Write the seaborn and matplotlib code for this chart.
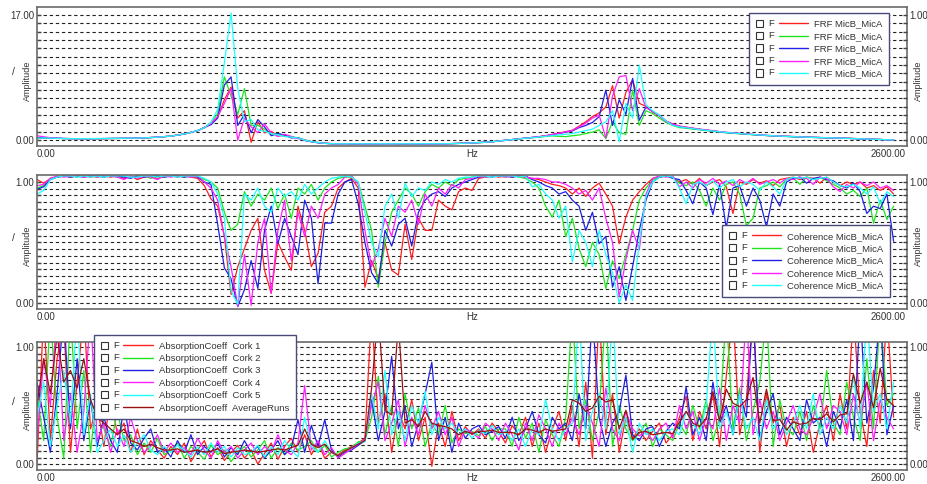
import numpy as np
import pandas as pd
import seaborn as sns
import matplotlib.pyplot as plt
from matplotlib.legend_handler import HandlerBase
from matplotlib.patches import Rectangle
from matplotlib.lines import Line2D
from matplotlib.text import Text

# frequency axis of the three spectra (20 Hz bins, 0 .. 2560 Hz)
hz = np.arange(129) * 20.0

# ---- panel 1 : FRF MicB_MicA, five runs
frf_red = [
    0.30, 0.32, 0.28, 0.25, 0.21, 0.20, 0.19, 0.20, 0.18, 0.21,
    0.20, 0.23, 0.22, 0.25, 0.25, 0.29, 0.30, 0.36, 0.39, 0.48,
    0.54, 0.70, 0.82, 1.08, 1.28, 1.75, 2.20, 3.10, 5.50, 7.20,
    3.00, 4.00, -0.30, 2.50, 1.00, 1.20, 0.60, 0.60, 0.40, 0.30,
    0.00, -0.20, -0.34, -0.43, -0.47, -0.50, -0.49, -0.52, -0.50, -0.48,
    -0.51, -0.50, -0.47, -0.50, -0.52, -0.49, -0.50, -0.48, -0.51, -0.50,
    -0.49, -0.50, -0.47, -0.45, -0.41, -0.38, -0.34, -0.29, -0.22, -0.12,
    -0.02, 0.08, 0.19, 0.28, 0.36, 0.47, 0.60, 0.78, 0.95, 1.15,
    1.35, 1.90, 2.50, 3.20, 3.70, 4.50, 7.40, 3.00, 6.50, 8.20,
    5.00, 4.60, 3.80, 3.30, 2.60, 2.20, 1.90, 1.75, 1.62, 1.48,
    1.38, 1.27, 1.15, 1.05, 0.97, 0.90, 0.83, 0.76, 0.70, 0.64,
    0.60, 0.55, 0.51, 0.47, 0.44, 0.41, 0.38, 0.35, 0.33, 0.31,
    0.29, 0.26, 0.23, 0.20, 0.16, 0.13, 0.09, 0.05, 0.02]
frf_green = [
    0.35, 0.30, 0.29, 0.24, 0.22, 0.19, 0.21, 0.18, 0.20, 0.19,
    0.22, 0.21, 0.24, 0.23, 0.27, 0.27, 0.32, 0.34, 0.41, 0.46,
    0.57, 0.66, 0.86, 1.02, 1.33, 1.65, 2.40, 3.60, 8.60, 6.00,
    3.50, 7.00, 2.00, 2.00, 1.50, 0.80, 0.90, 0.50, 0.50, 0.30,
    0.05, -0.18, -0.32, -0.44, -0.48, -0.49, -0.51, -0.50, -0.49, -0.52,
    -0.50, -0.48, -0.51, -0.50, -0.49, -0.51, -0.52, -0.50, -0.48, -0.50,
    -0.51, -0.48, -0.48, -0.46, -0.43, -0.39, -0.35, -0.30, -0.23, -0.13,
    -0.03, 0.06, 0.16, 0.25, 0.32, 0.40, 0.50, 0.58, 0.52, 0.48,
    0.60, 0.70, 0.90, 1.10, 1.40, 0.20, 2.50, 1.00, 0.80, 6.80,
    2.00, 4.00, 3.60, 3.00, 2.40, 2.00, 1.70, 1.62, 1.50, 1.40,
    1.30, 1.20, 1.10, 1.00, 0.93, 0.86, 0.79, 0.73, 0.67, 0.62,
    0.57, 0.53, 0.49, 0.46, 0.42, 0.39, 0.36, 0.34, 0.32, 0.30,
    0.28, 0.25, 0.22, 0.19, 0.16, 0.12, 0.08, 0.05, 0.02]
frf_blue = [
    0.32, 0.34, 0.31, 0.27, 0.23, 0.21, 0.20, 0.19, 0.21, 0.20,
    0.21, 0.22, 0.23, 0.24, 0.26, 0.28, 0.31, 0.35, 0.40, 0.47,
    0.55, 0.69, 0.83, 1.06, 1.27, 1.72, 2.10, 3.00, 7.50, 8.60,
    2.00, 3.50, 1.00, 2.80, 1.80, 0.60, 0.90, 0.70, 0.30, 0.35,
    -0.05, -0.22, -0.36, -0.44, -0.49, -0.50, -0.48, -0.51, -0.52, -0.50,
    -0.49, -0.51, -0.50, -0.48, -0.50, -0.51, -0.49, -0.52, -0.50, -0.49,
    -0.50, -0.49, -0.46, -0.44, -0.42, -0.37, -0.33, -0.28, -0.21, -0.11,
    0.00, 0.09, 0.18, 0.27, 0.35, 0.46, 0.57, 0.74, 0.90, 1.08,
    1.25, 1.70, 2.00, 2.40, 3.20, 6.80, 2.00, 5.50, 3.50, 8.40,
    2.70, 4.50, 3.90, 3.40, 2.60, 2.10, 1.85, 1.70, 1.58, 1.45,
    1.35, 1.24, 1.12, 1.03, 0.96, 0.88, 0.81, 0.75, 0.69, 0.63,
    0.58, 0.54, 0.50, 0.47, 0.43, 0.40, 0.37, 0.34, 0.32, 0.30,
    0.27, 0.24, 0.22, 0.18, 0.15, 0.12, 0.08, 0.04, 0.01]
frf_magenta = [
    0.60, 0.45, 0.33, 0.27, 0.22, 0.20, 0.20, 0.19, 0.20, 0.20,
    0.21, 0.22, 0.23, 0.25, 0.26, 0.28, 0.31, 0.36, 0.40, 0.47,
    0.56, 0.68, 0.85, 1.04, 1.31, 1.68, 2.25, 3.20, 5.00, 7.00,
    0.00, 3.00, 1.80, 1.00, 2.20, 1.00, 0.50, 0.80, 0.50, 0.20,
    0.00, -0.19, -0.35, -0.42, -0.48, -0.51, -0.50, -0.49, -0.51, -0.50,
    -0.52, -0.49, -0.50, -0.51, -0.48, -0.50, -0.50, -0.51, -0.49, -0.52,
    -0.50, -0.50, -0.48, -0.45, -0.42, -0.38, -0.35, -0.29, -0.22, -0.12,
    -0.01, 0.08, 0.18, 0.27, 0.36, 0.46, 0.59, 0.76, 0.92, 1.12,
    1.30, 1.80, 2.30, 3.00, 3.40, 0.30, 6.00, 8.60, 8.80, 4.00,
    7.00, 4.40, 3.90, 3.30, 2.50, 2.20, 1.90, 1.76, 1.63, 1.50,
    1.40, 1.28, 1.16, 1.06, 0.98, 0.91, 0.84, 0.77, 0.71, 0.65,
    0.61, 0.56, 0.52, 0.48, 0.45, 0.41, 0.38, 0.36, 0.33, 0.31,
    0.29, 0.26, 0.23, 0.20, 0.17, 0.13, 0.09, 0.05, 0.02]
frf_cyan = [
    0.28, 0.30, 0.27, 0.24, 0.21, 0.19, 0.20, 0.19, 0.20, 0.20,
    0.21, 0.22, 0.23, 0.24, 0.26, 0.28, 0.31, 0.35, 0.40, 0.47,
    0.55, 0.68, 0.84, 1.05, 1.30, 1.70, 2.40, 4.20, 10.50, 17.30,
    7.00, 2.50, 2.80, 1.40, 1.20, 0.90, 0.70, 0.50, 0.40, 0.30,
    0.00, -0.20, -0.34, -0.43, -0.48, -0.50, -0.50, -0.49, -0.50, -0.51,
    -0.50, -0.50, -0.49, -0.51, -0.50, -0.50, -0.49, -0.51, -0.50, -0.50,
    -0.49, -0.49, -0.47, -0.45, -0.42, -0.38, -0.34, -0.29, -0.22, -0.12,
    -0.02, 0.07, 0.17, 0.26, 0.33, 0.42, 0.52, 0.62, 0.70, 0.80,
    0.90, 1.10, 1.30, 1.50, 2.00, 2.50, 4.00, -0.20, 5.00, 3.00,
    10.20, 4.80, 4.00, 3.40, 2.60, 2.00, 1.80, 1.68, 1.55, 1.44,
    1.34, 1.23, 1.13, 1.04, 0.96, 0.89, 0.82, 0.76, 0.70, 0.64,
    0.59, 0.55, 0.51, 0.47, 0.44, 0.40, 0.37, 0.35, 0.33, 0.31,
    0.28, 0.25, 0.22, 0.19, 0.16, 0.12, 0.09, 0.05, 0.02]

# ---- panel 2 : Coherence MicB_MicA, five runs
coh_red = [
    1.02, 0.99, 1.03, 1.04, 1.05, 1.04, 1.05, 1.05, 1.04, 1.05,
    1.05, 1.04, 1.05, 1.03, 1.05, 1.02, 1.04, 1.05, 1.03, 1.05,
    1.05, 1.04, 1.05, 1.04, 1.03, 0.97, 0.86, 0.80, 0.55, 0.07,
    0.30, 0.45, 0.60, 0.70, 0.27, 0.08, 0.50, 0.38, 0.27, 0.80,
    0.60, 0.30, 0.41, 0.75, 0.80, 0.95, 1.00, 1.03, 0.95, 0.13,
    0.35, 0.20, 0.50, 0.27, 0.23, 0.65, 0.36, 0.70, 0.60, 0.60,
    0.85, 0.80, 0.77, 0.92, 0.95, 0.93, 1.03, 1.04, 1.05, 1.04,
    1.05, 1.04, 1.05, 1.04, 1.03, 1.02, 1.00, 0.98, 0.97, 0.95,
    0.90, 0.95, 0.88, 0.95, 0.99, 0.90, 0.80, 0.49, 0.71, 0.85,
    0.92, 0.98, 1.03, 1.04, 1.05, 1.04, 1.00, 1.02, 0.98, 1.03,
    0.97, 1.00, 1.02, 0.96, 0.74, 1.00, 0.98, 1.02, 0.99, 1.01,
    0.97, 1.02, 1.03, 1.04, 1.02, 1.04, 1.03, 0.99, 1.04, 1.00,
    0.97, 1.00, 0.98, 1.00, 0.95, 0.97, 0.93, 0.96, 0.90]
coh_green = [
    0.95, 0.97, 1.03, 1.04, 1.05, 1.05, 1.04, 1.05, 1.05, 1.04,
    1.05, 1.05, 1.04, 1.05, 1.04, 1.05, 1.05, 1.03, 1.05, 1.04,
    1.05, 1.05, 1.04, 1.05, 1.05, 1.02, 1.00, 0.95, 0.75, 0.60,
    0.65, 0.92, 0.80, 0.90, 0.85, 0.95, 0.78, 0.90, 0.70, 0.95,
    0.90, 0.98, 0.85, 0.95, 1.00, 1.03, 1.04, 1.04, 1.00, 0.80,
    0.60, 0.13, 0.50, 0.75, 0.85, 0.95, 0.90, 0.80, 0.92, 0.98,
    0.95, 1.00, 0.97, 1.02, 1.03, 1.04, 1.05, 1.04, 1.05, 1.05,
    1.04, 1.05, 1.04, 1.03, 1.00, 0.95, 0.80, 0.71, 0.85, 0.55,
    0.70, 0.45, 0.30, 0.50, 0.40, 0.12, 0.35, 0.20, 0.40, 0.60,
    0.85, 0.95, 1.02, 1.04, 1.05, 1.04, 0.99, 0.97, 1.00, 0.93,
    0.80, 0.95, 0.85, 0.98, 1.00, 0.90, 0.64, 0.70, 0.95, 0.97,
    1.00, 0.96, 1.02, 1.03, 0.98, 1.04, 1.02, 1.04, 1.01, 0.98,
    0.95, 0.90, 0.93, 0.88, 0.95, 0.66, 0.85, 0.69, 0.80]
coh_blue = [
    0.94, 0.96, 1.02, 1.04, 1.05, 1.04, 1.05, 1.04, 1.05, 1.05,
    1.04, 1.05, 1.05, 1.04, 1.03, 1.05, 1.04, 1.05, 1.05, 1.04,
    1.05, 1.05, 1.04, 1.05, 1.04, 1.00, 0.98, 0.65, 0.29, 0.20,
    -0.03, 0.11, 0.35, 0.12, 0.60, 0.80, 0.49, 0.70, 0.55, 0.40,
    0.85, 0.70, 0.16, 0.66, 0.66, 0.90, 1.00, 1.02, 0.82, 0.50,
    0.25, 0.16, 0.60, 0.47, 0.65, 0.70, 0.47, 0.75, 0.85, 0.90,
    0.92, 0.88, 0.95, 0.98, 1.00, 1.02, 1.04, 1.05, 1.04, 1.05,
    1.05, 1.04, 1.05, 1.05, 1.02, 1.00, 0.97, 0.95, 0.90, 0.92,
    0.85, 0.80, 0.60, 0.75, 0.49, 0.55, 0.13, 0.30, 0.02, 0.30,
    0.60, 0.85, 1.00, 1.04, 1.05, 1.03, 1.02, 0.93, 0.82, 1.00,
    0.95, 0.73, 0.98, 0.62, 0.95, 0.97, 0.80, 0.95, 0.85, 0.63,
    0.90, 0.80, 1.00, 1.03, 1.04, 0.99, 1.03, 1.04, 1.02, 1.01,
    0.97, 0.95, 0.99, 0.92, 0.74, 0.80, 0.78, 0.90, 0.51]
coh_magenta = [
    0.97, 0.98, 1.03, 1.05, 1.04, 1.05, 1.05, 1.04, 1.05, 1.04,
    1.05, 1.05, 1.04, 1.02, 1.05, 1.03, 1.05, 1.04, 1.02, 1.05,
    1.04, 1.05, 1.05, 1.04, 1.05, 1.00, 0.95, 0.85, 0.55, 0.30,
    -0.03, 0.40, -0.02, 0.50, 0.70, 0.08, 0.60, 0.85, 0.35, 0.75,
    0.55, 0.80, 0.70, 0.90, 0.95, 0.98, 1.04, 1.05, 0.98, 0.60,
    0.30, 0.45, 0.70, 0.55, 0.80, 0.75, 0.85, 0.65, 0.90, 0.80,
    0.95, 0.90, 0.98, 0.95, 1.02, 1.03, 1.05, 1.04, 1.05, 1.05,
    1.04, 1.05, 1.05, 1.04, 1.03, 1.03, 1.02, 1.00, 1.00, 0.98,
    0.95, 0.90, 0.93, 0.85, 0.95, 0.70, 0.50, 0.05, 0.36, 0.60,
    0.44, 0.90, 1.03, 1.05, 1.04, 1.05, 0.96, 1.00, 0.95, 1.02,
    0.99, 1.03, 0.98, 1.01, 0.97, 1.02, 0.99, 1.03, 0.98, 1.00,
    1.02, 0.99, 1.03, 1.02, 1.04, 1.03, 0.98, 1.04, 1.03, 0.96,
    0.92, 0.98, 0.95, 1.00, 0.97, 1.00, 0.95, 0.97, 0.93]
coh_cyan = [
    0.90, 0.93, 1.02, 1.04, 1.05, 1.05, 1.04, 1.05, 1.04, 1.05,
    1.04, 1.05, 1.05, 1.05, 1.04, 1.04, 1.05, 1.05, 1.04, 1.05,
    1.05, 1.04, 1.05, 1.05, 1.05, 1.03, 1.00, 0.90, 0.70, 0.10,
    -0.01, 0.90, 0.85, 0.95, 0.80, 0.75, 0.95, 0.88, 0.92, 0.85,
    0.98, 0.90, 0.95, 1.00, 1.03, 1.04, 1.05, 1.04, 1.00, 0.75,
    0.50, 0.38, 0.80, 0.90, 0.70, 0.99, 0.88, 0.95, 0.93, 1.00,
    0.98, 1.02, 1.00, 1.03, 1.04, 1.04, 1.05, 1.05, 1.04, 1.05,
    1.05, 1.05, 1.04, 1.05, 0.96, 0.98, 0.90, 0.85, 0.70, 0.80,
    0.34, 0.60, 0.50, 0.30, 0.60, 0.40, 0.25, 0.00, 0.15, 0.02,
    0.50, 0.88, 1.00, 1.04, 1.05, 1.04, 0.95, 0.82, 0.98, 1.00,
    0.97, 1.01, 0.95, 1.00, 1.02, 0.96, 1.00, 0.98, 0.93, 1.00,
    0.96, 0.90, 1.02, 1.04, 1.03, 1.04, 1.02, 1.03, 1.04, 1.00,
    0.97, 0.96, 0.98, 0.95, 0.90, 0.96, 0.82, 0.92, 0.88]

# ---- panel 3 : absorption coefficient, five corks + average
abs_cork1 = [
    0.00, 1.30, 0.20, 0.90, 1.20, 0.10, 0.70, 1.30, 0.30, 0.50,
    0.15, 0.60, 0.25, 0.35, 0.10, 0.30, 0.08, 0.20, 0.12, 0.05,
    0.15, 0.08, 0.18, 0.02, 0.12, 0.20, 0.06, 0.14, 0.03, 0.10,
    0.16, 0.05, 0.12, 0.00, 0.09, 0.18, 0.04, 0.15, 0.22, 0.10,
    0.25, 0.08, 0.18, 0.05, 0.10, 0.08, 0.12, 0.15, 0.18, 0.22,
    1.30, 0.35, 0.60, 0.10, 0.45, 0.30, 0.55, 0.20, 0.40, -0.02,
    0.35, 0.15, 0.45, 0.20, 0.32, 0.25, 0.30, 0.22, 0.35, 0.28,
    0.18, 0.33, 0.25, 0.40, 0.15, 0.35, 0.10, 0.30, 0.45, 0.20,
    0.50, 0.15, 0.70, 0.05, 1.30, 0.25, 0.60, 0.10, 0.40, 0.22,
    0.30, 0.20, 0.28, 0.35, 0.18, 0.25, 0.40, 0.58, 0.20, 0.45,
    0.30, 0.60, 0.15, 0.75, 1.30, 0.25, 0.55, 1.30, 0.10, 0.60,
    0.35, 0.50, 0.15, 0.40, 0.25, 0.45, 0.10, 0.35, 0.50, 0.20,
    0.60, 0.30, 1.30, 0.45, 0.15, 0.80, 0.35, 1.30, 0.40]
abs_cork2 = [
    0.60, 0.20, 1.30, 0.40, 0.05, 1.30, 0.30, 0.80, 0.10, 0.65,
    0.30, 0.15, 0.45, 0.20, 0.25, 0.08, 0.18, 0.10, 0.22, 0.08,
    0.12, 0.18, 0.05, 0.15, 0.10, 0.04, 0.16, 0.08, 0.12, 0.02,
    0.10, 0.15, 0.06, 0.12, 0.20, 0.05, 0.14, 0.08, 0.18, 0.12,
    0.15, 0.20, 0.10, 0.16, 0.06, 0.10, 0.13, 0.14, 0.19, 0.20,
    0.40, 0.75, 0.25, 0.50, 0.15, 0.60, 0.30, 0.48, 0.15, 0.35,
    0.25, 0.50, 0.18, 0.30, 0.26, 0.28, 0.24, 0.32, 0.20, 0.30,
    0.30, 0.15, 0.40, 0.22, 0.35, 0.10, 0.38, 0.25, 0.15, 0.40,
    1.30, 0.30, 0.55, 0.20, 0.45, 1.30, 0.15, 0.50, 0.30, 0.20,
    0.26, 0.35, 0.15, 0.30, 0.25, 0.20, 0.35, 0.25, 0.50, 0.30,
    0.55, 0.20, 0.40, 1.30, 0.30, 0.65, 0.20, 0.45, 0.70, 1.30,
    0.15, 0.55, 0.30, 0.25, 0.45, 0.20, 0.50, 0.30, 0.80, 0.35,
    0.25, 0.70, 0.40, 0.20, 0.90, 0.30, 1.30, 0.50, 0.60]
abs_cork3 = [
    0.70, 0.40, 0.10, 0.60, 1.30, 0.30, 0.90, 0.20, 0.55, 0.15,
    0.40, 0.20, 0.10, 0.50, 0.18, 0.12, 0.22, 0.30, 0.10, 0.14,
    0.06, 0.20, 0.10, 0.25, 0.08, 0.15, 0.10, 0.18, 0.06, 0.14,
    0.08, 0.20, 0.10, 0.15, 0.05, 0.12, 0.20, 0.08, 0.14, 0.38,
    0.10, 0.33, 0.15, 0.38, 0.12, 0.06, 0.10, 0.12, 0.16, 0.20,
    0.55, 0.20, 0.45, 0.92, 0.30, 0.50, 0.15, 0.35, 0.60, 0.87,
    0.20, 0.40, 0.10, 0.35, 0.22, 0.30, 0.33, 0.25, 0.28, 0.32,
    0.22, 0.40, 0.20, 0.30, 0.45, 0.25, 0.18, 0.40, 0.30, 0.35,
    0.20, 0.60, 0.30, 1.30, 0.40, 0.15, 0.35, 0.45, 0.76, 0.25,
    0.20, 0.30, 0.32, 0.15, 0.28, 0.35, 0.30, 0.66, 0.25, 0.40,
    0.20, 0.70, 0.35, 0.50, 0.25, 0.60, 0.40, 1.30, 0.20, 0.45,
    0.60, 0.25, 0.40, 0.30, 0.20, 0.55, 0.35, 0.40, 0.15, 0.45,
    0.30, 0.55, 0.20, 1.30, 0.35, 0.65, 1.30, 0.25, 0.50]
abs_cork4 = [
    0.20, 0.90, 0.50, 1.30, 0.20, 0.60, 0.10, 0.45, 1.30, 0.20,
    0.35, 0.10, 0.30, 0.15, 0.40, 0.20, 0.10, 0.15, 0.25, 0.10,
    0.18, 0.10, 0.14, 0.08, 0.22, 0.12, 0.05, 0.20, 0.10, 0.15,
    0.05, 0.12, 0.18, 0.08, 0.15, 0.10, 0.25, 0.12, 0.08, 0.18,
    0.67, 0.12, 0.20, 0.08, 0.14, 0.05, 0.09, 0.13, 0.17, 0.21,
    0.50, 0.70, 0.20, 0.35, 0.55, 0.15, 0.40, 0.25, 0.50, 0.30,
    0.45, 0.25, 0.40, 0.15, 0.30, 0.27, 0.22, 0.35, 0.30, 0.20,
    0.35, 0.25, 0.12, 0.35, 0.20, 0.42, 0.30, 0.15, 0.35, 0.25,
    0.40, 0.25, 0.50, 0.35, 0.15, 0.65, 0.30, 0.20, 0.45, 0.30,
    0.24, 0.28, 0.20, 0.30, 0.35, 0.22, 0.50, 0.30, 0.45, 0.20,
    0.40, 0.30, 0.65, 0.20, 0.50, 0.35, 1.30, 0.25, 0.55, 0.30,
    0.45, 0.20, 0.35, 0.50, 0.30, 0.25, 0.40, 0.60, 0.30, 0.50,
    0.45, 0.25, 0.60, 0.35, 0.70, 0.20, 0.55, 0.40, 0.30]
abs_cork5 = [
    0.40, 0.70, 0.15, 0.50, 0.80, 0.35, 1.30, 0.25, 0.60, 0.10,
    0.20, 0.30, 0.15, 0.25, 0.10, 0.18, 0.25, 0.12, 0.08, 0.15,
    0.10, 0.16, 0.12, 0.06, 0.15, 0.08, 0.18, 0.10, 0.15, 0.06,
    0.14, 0.08, 0.10, 0.16, 0.06, 0.15, 0.08, 0.20, 0.12, 0.06,
    0.40, 0.15, 0.10, 0.20, 0.10, 0.07, 0.11, 0.14, 0.18, 0.19,
    0.60, 0.30, 0.80, 0.25, 0.45, 0.20, 0.50, 0.35, 0.62, 0.25,
    0.40, 0.30, 0.35, 0.25, 0.30, 0.22, 0.29, 0.26, 0.33, 0.25,
    0.28, 0.20, 0.30, 0.15, 0.30, 0.25, 0.55, 0.30, 0.20, 0.30,
    0.35, 1.30, 0.20, 0.45, 0.60, 0.30, 1.30, 0.25, 0.40, 0.10,
    0.35, 0.25, 0.30, 0.20, 0.28, 0.30, 0.25, 0.45, 0.35, 0.25,
    0.50, 1.30, 0.30, 0.45, 0.25, 0.60, 0.30, 0.40, 0.20, 0.55,
    0.30, 0.40, 0.25, 0.35, 0.50, 0.30, 0.60, 0.25, 0.40, 0.30,
    0.50, 0.35, 0.75, 0.30, 1.30, 0.45, 0.60, 0.30, 0.70]
abs_average = [
    0.50, 0.90, 0.60, 1.10, 0.70, 0.80, 0.65, 0.90, 0.55, 0.40,
    0.35, 0.30, 0.25, 0.30, 0.20, 0.18, 0.15, 0.17, 0.14, 0.12,
    0.12, 0.13, 0.10, 0.11, 0.12, 0.10, 0.11, 0.13, 0.09, 0.10,
    0.11, 0.12, 0.11, 0.10, 0.11, 0.12, 0.13, 0.12, 0.14, 0.16,
    0.30, 0.17, 0.14, 0.17, 0.10, 0.07, 0.11, 0.14, 0.17, 0.20,
    0.65, 1.30, 0.46, 0.42, 1.20, 0.35, 0.38, 0.32, 0.45, 0.35,
    0.33, 0.32, 0.30, 0.25, 0.28, 0.26, 0.28, 0.28, 0.29, 0.27,
    0.27, 0.27, 0.25, 0.30, 0.29, 0.27, 0.30, 0.28, 0.29, 0.30,
    0.55, 0.52, 0.45, 0.48, 0.58, 0.53, 0.55, 0.30, 0.46, 0.21,
    0.27, 0.28, 0.25, 0.26, 0.27, 0.26, 0.36, 0.45, 0.35, 0.32,
    0.39, 0.62, 0.37, 0.64, 0.52, 0.49, 0.55, 0.74, 0.35, 0.64,
    0.37, 0.38, 0.29, 0.36, 0.34, 0.35, 0.39, 0.38, 0.43, 0.36,
    0.42, 0.43, 0.77, 0.52, 0.70, 0.48, 0.82, 0.55, 0.50]

frf_labels = ["FRF MicB_MicA"] * 5
coh_labels = ["Coherence MicB_MicA"] * 5
abs_labels = ["AbsorptionCoeff  Cork 1", "AbsorptionCoeff  Cork 2",
              "AbsorptionCoeff  Cork 3", "AbsorptionCoeff  Cork 4",
              "AbsorptionCoeff  Cork 5", "AbsorptionCoeff  AverageRuns"]

run_colors = ["#ff1f1f", "#1fe41f", "#2020e6", "#ff1fff", "#1fffff", "#9c1010"]

sns.set_style("white")
plt.rcParams["font.family"] = ["Liberation Sans", "DejaVu Sans"]
TXT = "#333333"


class BoxFHandler(HandlerBase):
    # legend row: empty check box, "F", then the line sample
    def create_artists(self, legend, orig_handle, xdescent, ydescent,
                       width, height, fontsize, trans):
        y = (height - ydescent) / 2
        x0 = -xdescent
        box = Rectangle((x0, y - 2.6), 5.2, 5.2, facecolor="white",
                        edgecolor=TXT, lw=0.8, transform=trans)
        f = Text(x0 + 8.8, y, "F", fontsize=fontsize, color=TXT,
                 ha="left", va="center", transform=trans)
        line = Line2D([x0 + 16.5, x0 + width], [y, y],
                      color=orig_handle.get_color(), lw=1.0, transform=trans)
        return [box, f, line]


def long_frame(series):
    parts = []
    for k, vals in enumerate(series):
        parts.append(pd.DataFrame({"Hz": hz, "value": vals, "run": f"r{k}"}))
    return pd.concat(parts, ignore_index=True)


def draw_panel(ax, series, labels, top, ylim, n_grid, leg_loc, leg_anchor):
    df = long_frame(series)
    keys = [f"r{k}" for k in range(len(series))]
    pal = dict(zip(keys, run_colors[:len(series)]))
    sns.lineplot(data=df, x="Hz", y="value", hue="run", hue_order=keys,
                 palette=pal, estimator=None, sort=False, lw=0.9,
                 legend=False, ax=ax)
    ax.set_xlim(0, 2600)
    ax.set_ylim(*ylim)
    ax.set_xlabel("")
    ax.set_ylabel("")

    grid = np.linspace(0, top, n_grid)
    ax.set_yticks(grid)
    ax.set_yticklabels(["0.00"] + [""] * (n_grid - 2) + [f"{top:.2f}"])
    ax.set_axisbelow(True)
    ax.grid(axis="y", color="#222222", lw=0.8, linestyle=(0, (3, 2.5)))
    ax.grid(axis="x", visible=False)

    ax.set_xticks([1000, 2000])
    ax.set_xticks(np.arange(0, 2601, 200), minor=True)
    ax.tick_params(axis="x", which="major", direction="in", length=7,
                   width=1.2, color="#555555", labelbottom=False)
    ax.tick_params(axis="x", which="minor", direction="in", length=2.5,
                   width=1, color="#555555")
    ax.tick_params(axis="y", direction="in", length=3, width=1,
                   color="#444444", labelsize=7, labelcolor=TXT, pad=2)
    for sp in ax.spines.values():
        sp.set_color("#6a6a6a")
        sp.set_linewidth(1.2)

    ax2 = ax.twinx()
    ax2.set_ylim(ylim[0] / top, ylim[1] / top)
    ax2.set_yticks(grid / top)
    ax2.set_yticklabels(["0.00"] + [""] * (n_grid - 2) + ["1.00"])
    ax2.tick_params(axis="y", direction="in", length=3, width=1,
                    color="#444444", labelsize=7, labelcolor=TXT, pad=2)
    for sp in ax2.spines.values():
        sp.set_visible(False)

    ax.annotate("0.00", (0, 0), xycoords="axes fraction", xytext=(0, -6),
                textcoords="offset points", ha="left", va="center",
                fontsize=7, color=TXT)
    ax.annotate("Hz", (0.5, 0), xycoords="axes fraction", xytext=(0, -6),
                textcoords="offset points", ha="center", va="center",
                fontsize=7, color=TXT)
    ax.annotate("2600.00", (1, 0), xycoords="axes fraction", xytext=(-1, -6),
                textcoords="offset points", ha="right", va="center",
                fontsize=7, color=TXT)
    ax.annotate("Amplitude", (0, 0.47), xycoords="axes fraction",
                xytext=(-7.2, 0), textcoords="offset points", rotation=90,
                ha="center", va="center", fontsize=6.5, color=TXT)
    ax.annotate("/", (0, 0.53), xycoords="axes fraction",
                xytext=(-17.3, 0), textcoords="offset points",
                ha="center", va="center", fontsize=7.5, color=TXT)
    ax.annotate("Amplitude", (1, 0.47), xycoords="axes fraction",
                xytext=(8, 0), textcoords="offset points", rotation=90,
                ha="center", va="center", fontsize=6.5, color=TXT)

    handles = [Line2D([], [], color=c) for c in run_colors[:len(series)]]
    leg = ax.legend(handles, labels, handler_map={Line2D: BoxFHandler()},
                    loc=leg_loc, bbox_to_anchor=leg_anchor, frameon=True,
                    fancybox=False, framealpha=1, edgecolor="#4a4a7a",
                    fontsize=6.8, labelcolor=TXT, handlelength=5.5,
                    handletextpad=0.65, borderpad=0.7, labelspacing=0.36,
                    borderaxespad=0)
    leg.get_frame().set_linewidth(1.0)


fig = plt.figure(figsize=(9.27, 4.84), dpi=100)
ax_frf = fig.add_axes([0.0399, 0.6983, 0.9385, 0.2872])
ax_coh = fig.add_axes([0.0399, 0.3616, 0.9385, 0.2769])
ax_abs = fig.add_axes([0.0399, 0.0289, 0.9385, 0.2645])

draw_panel(ax_frf, [frf_red, frf_green, frf_blue, frf_magenta, frf_cyan],
           frf_labels, 17.0, (-0.8, 18.1), 16, "upper right", (0.979, 0.957))
draw_panel(ax_coh, [coh_red, coh_green, coh_blue, coh_magenta, coh_cyan],
           coh_labels, 1.0, (-0.05, 1.058), 19, "lower right", (0.980, 0.09))
draw_panel(ax_abs, [abs_cork1, abs_cork2, abs_cork3, abs_cork4, abs_cork5,
                    abs_average],
           abs_labels, 1.0, (-0.051, 1.043), 19, "upper left", (0.0655, 1.055))

fig.savefig("out.png", dpi=100)
